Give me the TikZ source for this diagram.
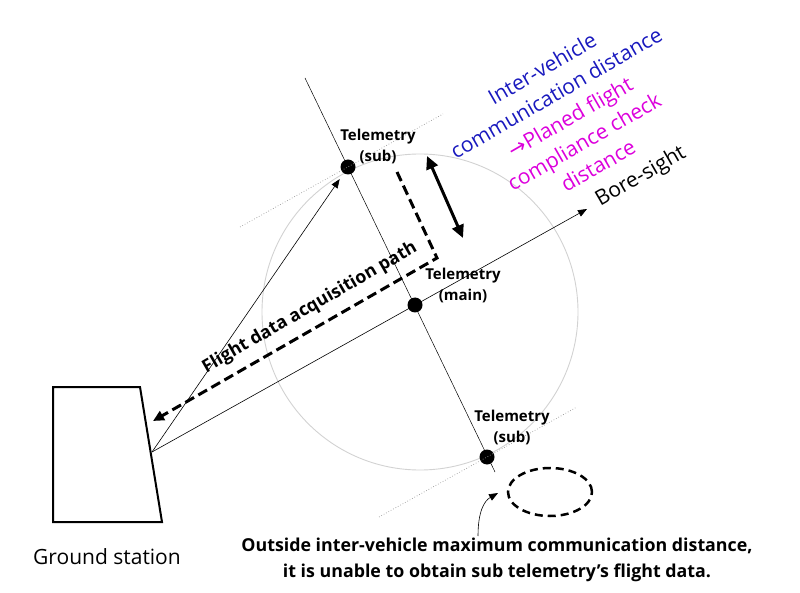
\documentclass[tikz,border=0pt]{standalone}
\usepackage{fontspec}
\setmainfont{Open Sans}
\newfontfamily\djv{DejaVu Sans}
\usetikzlibrary{arrows.meta}
\definecolor{tblue}{RGB}{25,25,190}
\definecolor{tmag}{RGB}{220,0,220}
\begin{document}
\begin{tikzpicture}[x=1pt,y=-1pt,
  dot/.style={circle,fill=black,inner sep=0pt,minimum size=15pt},
  fine/.style={line width=0.6pt},
  tiptri/.style={-{Triangle[length=9pt,width=7pt]}},
  lbl/.style={font=\fontsize{15}{21}\selectfont\bfseries,align=center,inner sep=0pt},
  guide/.style={gray!80,line width=0.7pt,dotted},
  thickdash/.style={line width=3pt,dash pattern=on 10pt off 5pt},
]
\useasboundingbox (0,0) rectangle (800,593);

% circle of communication distance
\draw[gray!35,line width=0.9pt] (420,312) circle[radius=158pt];

% coordinates
\coordinate (G) at (152,452);
\coordinate (bsTip) at (587,209);
\coordinate (pTop) at (305,78);
\coordinate (pBot) at (495,472);
\coordinate (tA1) at (240,227);
\coordinate (tA2) at (443,114);
\coordinate (tB1) at (379,517);
\coordinate (tB2) at (577,407);
\coordinate (dA) at (397,172);
\coordinate (dB) at (437,258);
\coordinate (dC) at (153,421);
\coordinate (dblA) at (427,156);
\coordinate (dblB) at (463,238);
\coordinate (cS) at (478,536);
\coordinate (cE) at (498,493);

% telemetry dots
\node[dot] (subA) at (348,167) {};
\node[dot] (main) at (415,305) {};
\node[dot] (subB) at (487,457) {};

% ground station
\draw[line width=2pt] (53,387) -- (140,387) -- (162,522) -- (53,522) -- cycle;
\node[font=\fontsize{21}{25}\selectfont] (gs) at (107,557) {Ground station};

% perpendicular axis
\draw[line width=0.5pt] (pTop) -- (pBot);
% tangent dotted lines
\draw[guide] (tA1) -- (tA2);
\draw[guide] (tB1) -- (tB2);

% lines from ground station
\draw[fine,tiptri] (G) -- (bsTip);
\draw[fine,tiptri,shorten >=7pt] (G) -- (subA);

% flight data acquisition path
\draw[thickdash,-{Triangle[length=11pt,width=10pt]}] (dA) -- (dB) -- (dC);
\node[rotate=30,font=\fontsize{17.8}{21}\selectfont\bfseries] (fdap) at (310,308) {Flight data acquisition path};

% double arrow
\draw[line width=3pt,{Triangle[length=13pt,width=12pt]}-{Triangle[length=13pt,width=12pt]}] (dblA) -- (dblB);

% labels
\node[lbl] (lsubA) at (378,146) {Telemetry\\(sub)};
\node[lbl] (lmain) at (463,285) {Telemetry\\(main)};
\node[lbl] (lsubB) at (512,427) {Telemetry\\(sub)};

\node[rotate=30,align=center,font=\fontsize{21}{28}\selectfont] (info) at (570,117)
 {\textcolor{tblue}{Inter-vehicle}\\
  \textcolor{tblue}{communication distance}\\
  \textcolor{tmag}{{\djv →}Planed flight}\\
  \textcolor{tmag}{compliance check}\\
  \textcolor{tmag}{distance}};
\node[rotate=30,font=\fontsize{21}{25}\selectfont] (bs) at (641,177) {Bore-sight};

% out-of-range ellipse and note
\draw[line width=2.5pt,dash pattern=on 8pt off 5pt] (550,492) ellipse[x radius=42pt,y radius=24pt];
\draw[fine,tiptri] (cS) .. controls (478,512) and (484,501) .. (cE);
\node[font=\fontsize{17.8}{25.5}\selectfont\bfseries,align=center] (note) at (497,560)
 {Outside inter-vehicle maximum communication distance,\\
  it is unable to obtain sub telemetry’s flight data.};
\end{tikzpicture}
\end{document}
